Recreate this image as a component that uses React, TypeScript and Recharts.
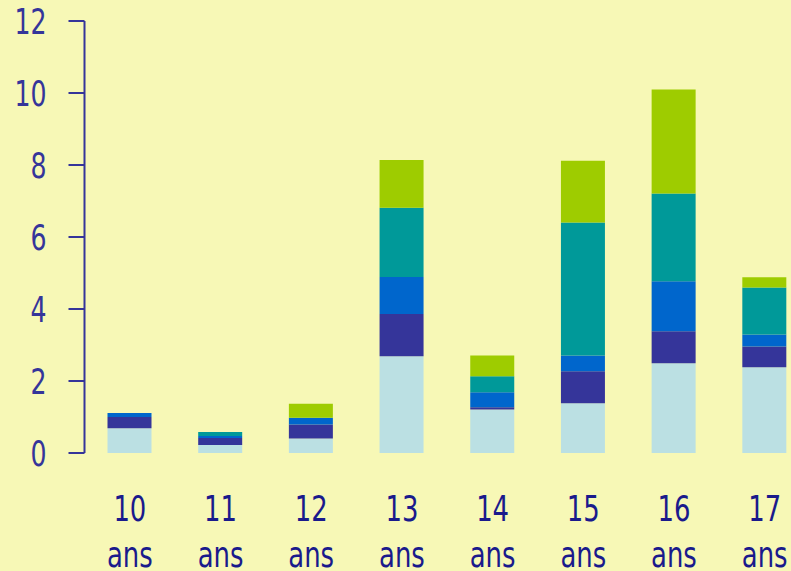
import React from "react";
import { BarChart, Bar, XAxis, YAxis } from "recharts";

const categories = ["10", "11", "12", "13", "14", "15", "16", "17"];
const serieA = [0.69, 0.22, 0.4, 2.69, 1.21, 1.38, 2.49, 2.38];
const serieB = [0.31, 0.2, 0.39, 1.17, 0.06, 0.89, 0.89, 0.58];
const serieC = [0.11, 0.05, 0.19, 1.03, 0.42, 0.44, 1.39, 0.33];
const serieD = [0, 0.11, 0, 1.92, 0.44, 3.69, 2.44, 1.31];
const serieE = [0, 0, 0.39, 1.33, 0.58, 1.72, 2.89, 0.28];
const yTicks = [0, 2, 4, 6, 8, 10, 12];

const data = categories.map((c, i) => ({
  cat: c,
  a: serieA[i],
  b: serieB[i],
  c: serieC[i],
  d: serieD[i],
  e: serieE[i],
}));

const FONT = "'Liberation Sans Narrow', 'DejaVu Sans Condensed', 'Roboto Condensed', sans-serif";

const YTick = (props: any) => {
  const { x, y, payload } = props;
  return (
    <text
      transform={`translate(${x},${y}) scale(0.8,1)`}
      x={0}
      y={0}
      dy="0.36em"
      textAnchor="end"
      fill="#35359A"
      fontFamily={FONT}
      fontSize={35}
    >
      {payload.value}
    </text>
  );
};

const XTick = (props: any) => {
  const { x, y, payload } = props;
  return (
    <g transform={`translate(${x},${y}) scale(0.8,1)`}>
      <text x={0} y={60} textAnchor="middle" fill="#1a1a8c" fontFamily={FONT} fontSize={36}>
        {payload.value}
      </text>
      <text x={0} y={106} textAnchor="middle" fill="#1a1a8c" fontFamily={FONT} fontSize={36}>
        ans
      </text>
    </g>
  );
};

export default function App() {
  return (
    <div
      style={{
        position: "absolute",
        left: 0,
        top: 0,
        width: 791,
        height: 571,
        overflow: "hidden",
        background: "#F7F8B6",
      }}
    >
      <BarChart
        width={810}
        height={571}
        data={data}
        margin={{ top: 21, right: 0, left: 0, bottom: 0 }}
        barSize={44}
      >
        <YAxis
          width={84.5}
          domain={[0, 12]}
          ticks={yTicks}
          interval={0}
          tickSize={16}
          tickMargin={22}
          axisLine={{ stroke: "#35359A", strokeWidth: 2 }}
          tickLine={{ stroke: "#35359A", strokeWidth: 2 }}
          tick={<YTick />}
        />
        <XAxis
          dataKey="cat"
          height={118}
          axisLine={false}
          tickLine={false}
          interval={0}
          tick={<XTick />}
        />
        <Bar dataKey="a" stackId="s" fill="#BBE0E3" isAnimationActive={false} />
        <Bar dataKey="b" stackId="s" fill="#35359A" isAnimationActive={false} />
        <Bar dataKey="c" stackId="s" fill="#0066CC" isAnimationActive={false} />
        <Bar dataKey="d" stackId="s" fill="#009999" isAnimationActive={false} />
        <Bar dataKey="e" stackId="s" fill="#9ECC00" isAnimationActive={false} />
      </BarChart>
    </div>
  );
}
